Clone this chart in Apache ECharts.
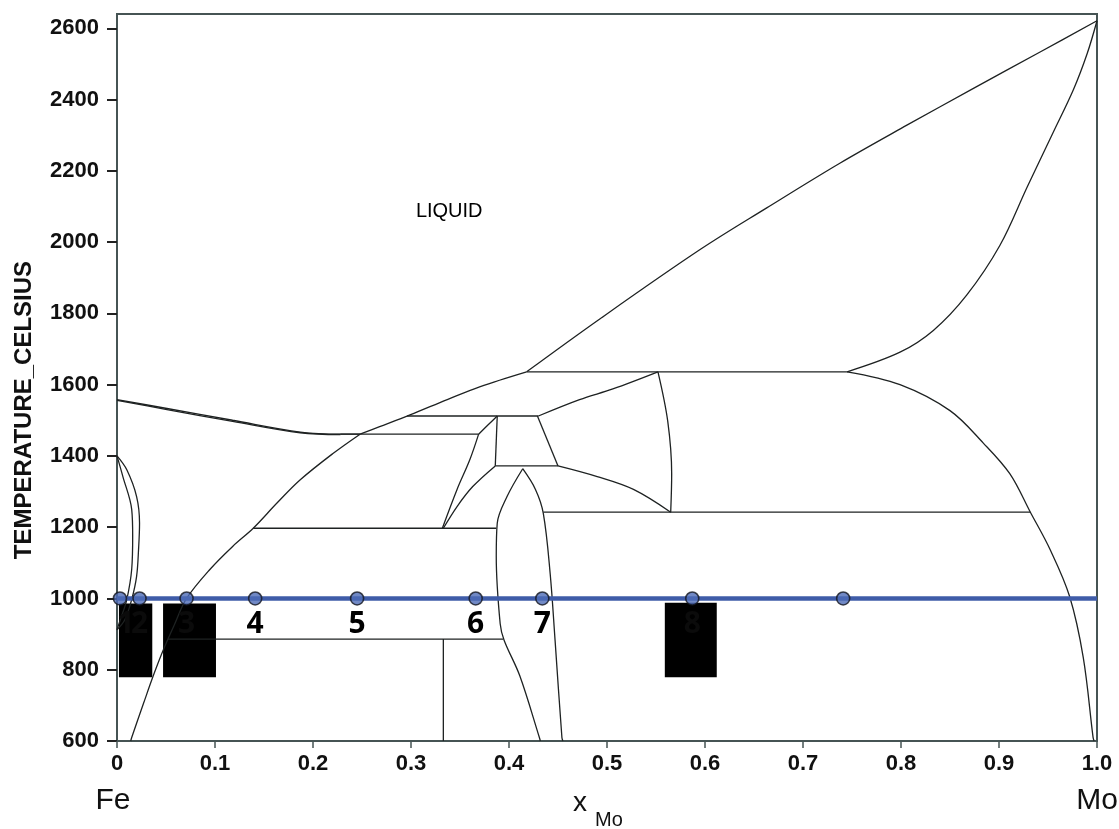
<!DOCTYPE html>
<html>
<head>
<meta charset="utf-8">
<script src="https://cdn.jsdelivr.net/npm/echarts@6/dist/echarts.min.js"></script>
<style>
html,body{margin:0;padding:0;background:#fff;}
#chart{width:1119px;height:829px;}
</style>
</head>
<body>
<div id="chart"></div>
<script>
// ---------- axis ticks ----------
const xTicks = [0, 0.1, 0.2, 0.3, 0.4, 0.5, 0.6, 0.7, 0.8, 0.9, 1.0];
const xTickLabels = ['0', '0.1', '0.2', '0.3', '0.4', '0.5', '0.6', '0.7', '0.8', '0.9', '1.0'];
const yTicks = [600, 800, 1000, 1200, 1400, 1600, 1800, 2000, 2200, 2400, 2600];
const yTickLabels = ['600', '800', '1000', '1200', '1400', '1600', '1800', '2000', '2200', '2400', '2600'];

// ---------- phase boundaries: [x_Mo, T (°C)] ----------
const deltaLiquidus = [[0,1558],[0.051,1533],[0.118,1500],[0.187,1467],[0.228,1461],[0.248,1461]];
const deltaSolidus = [[0,1556],[0.051,1530],[0.118,1497],[0.187,1465],[0.228,1460]];
const liquidusLow = [[0.248,1461],[0.268,1482],[0.299,1515],[0.337,1558],[0.370,1594],[0.418,1636]];
const liquidusHigh = [[0.418,1636],[0.493,1785],[0.595,1979],[0.663,2096],[0.738,2222],[0.806,2328],[0.873,2430],[0.941,2532],[1.0,2621]];
const moSolidus = [[0.745,1636],[0.799,1691],[0.833,1752],[0.867,1851],[0.901,1991],[0.929,2156],[0.955,2306],[0.976,2428],[0.990,2529],[1.0,2621]];
const moSolvus = [[0.745,1636],[0.799,1600],[0.850,1527],[0.884,1436],[0.911,1350],[0.932,1242],[0.952,1138],[0.972,1006],[0.986,834],[0.996,610],[0.997,600]];
const gammaLoopOuter = [[0,1400],[0.010,1361],[0.020,1286],[0.023,1211],[0.022,1138],[0.020,1062],[0.015,997],[0.008,940],[0,912]];
const gammaLoopInner = [[0,1400],[0.006,1342],[0.015,1250],[0.016,1175],[0.015,1082],[0.010,997],[0.004,945],[0,912]];
const alphaSolvus = [[0.014,600],[0.015,610],[0.027,705],[0.037,783],[0.047,854],[0.059,929],[0.071,1000],[0.095,1082],[0.118,1146],[0.139,1197],[0.163,1267],[0.187,1333],[0.220,1406],[0.248,1461]];
const iso1636 = [[0.418,1636],[0.745,1636]];
const iso1512 = [[0.296,1512],[0.430,1512]];
const iso1461 = [[0.228,1461],[0.369,1461]];
const iso1372 = [[0.386,1372],[0.450,1372]];
const iso1242 = [[0.435,1242],[0.932,1242]];
const iso1197 = [[0.139,1197],[0.387,1197]];
const iso886 = [[0.052,886],[0.394,886]];
const vert333 = [[0.333,886],[0.333,600]];
const sigmaLeft = [[0.332,1197],[0.347,1306],[0.360,1389],[0.369,1461]];
const sigmaTop = [[0.369,1461],[0.379,1488],[0.388,1512]];
const vert388 = [[0.388,1512],[0.386,1372]];
const sigmaCurve = [[0.333,1197],[0.347,1258],[0.363,1314],[0.386,1372]];
const rLeft = [[0.429,1512],[0.450,1372]];
const rUpper = [[0.430,1512],[0.472,1558],[0.506,1588],[0.552,1636]];
const muRight = [[0.552,1636],[0.562,1497],[0.566,1350],[0.565,1242]];
const muLower = [[0.450,1372],[0.490,1342],[0.527,1306],[0.565,1242]];
const lensLeft = [[0.414,1364],[0.398,1286],[0.388,1211],[0.387,1118],[0.391,929],[0.395,883],[0.411,783],[0.431,610],[0.432,600]];
const lensRight = [[0.414,1364],[0.427,1306],[0.435,1239],[0.442,1070],[0.447,883],[0.454,610],[0.455,600]];

// ---------- 1000 °C isotherm and sample points ----------
const isothermT = 1000;
const isothermLine = [[0,1000],[1,1000]];
const sampleX = [0.003, 0.023, 0.071, 0.141, 0.245, 0.366, 0.434, 0.587, 0.741];
const sampleLabels = ['1', '2', '3', '4', '5', '6', '7', '8', ''];
const maskedLabels = ['1', '2', '3', '8'];
// black cover boxes: [x1, T1, x2, T2]
const maskBoxes = [[0.002,986,0.036,779],[0.047,986,0.101,779],[0.559,988,0.612,779]];
const regionLabels = [{name:'LIQUID', value:[0.339, 2088]}];

// ---------- build ----------
const phaseLines = [
  [deltaLiquidus, true], [deltaSolidus, true], [liquidusLow, true], [liquidusHigh, true],
  [moSolidus, true], [moSolvus, true], [gammaLoopOuter, true], [gammaLoopInner, true],
  [alphaSolvus, true], [iso1636, false], [iso1512, false], [iso1461, false], [iso1372, false],
  [iso1242, false], [iso1197, false], [iso886, false], [vert333, false], [sigmaLeft, true],
  [sigmaTop, true], [vert388, false], [sigmaCurve, true], [rLeft, false], [rUpper, true],
  [muRight, true], [muLower, true], [lensLeft, true], [lensRight, true]
];

const LINE_COLOR = '#1e2222';
const FRAME = '#465454';

const series = phaseLines.map(([d, sm]) => ({
  type: 'line', data: d, smooth: sm ? 0.35 : false, showSymbol: false, symbol: 'none',
  lineStyle: {color: LINE_COLOR, width: 1.3}, z: 2, silent: true
}));

series.push({
  type: 'line', data: [], z: 3, silent: true,
  markArea: {
    silent: true,
    itemStyle: {color: '#000', opacity: 1},
    data: maskBoxes.map(b => [{coord: [b[0], b[1]]}, {coord: [b[2], b[3]]}])
  }
});

series.push({
  type: 'line', data: isothermLine, showSymbol: false, symbol: 'none',
  lineStyle: {color: '#3f5ca8', width: 4.5}, z: 4, silent: true
});

series.push({
  type: 'scatter', z: 5, silent: true,
  symbol: 'circle', symbolSize: 13,
  itemStyle: {color: '#4d6cb7', borderColor: '#14161f', borderWidth: 1.6},
  label: {
    show: true, position: 'bottom', distance: 4,
    formatter: p => sampleLabels[p.dataIndex],
    fontFamily: '"Open Sans","Noto Sans",sans-serif', fontWeight: 'bold', fontSize: 30,
    color: '#000', textBorderWidth: 0, opacity: 1
  },
  data: sampleX.map((x, i) => ({
    value: [x, isothermT],
    label: maskedLabels.indexOf(sampleLabels[i]) >= 0
      ? {color: '#0b0b0b', offset: [i === 0 ? 6 : 0, 0]} : {}
  }))
});

series.push({
  type: 'scatter', z: 6, silent: true, symbolSize: 1, itemStyle: {opacity: 0},
  label: {show: true, position: 'bottom', distance: -10, formatter: p => p.name,
    fontFamily: '"Liberation Sans",Arial,sans-serif', fontSize: 20, color: '#000',
    textBorderWidth: 0, opacity: 1},
  data: regionLabels
});

function xLabel(v) {
  let best = 0;
  for (let i = 0; i < xTicks.length; i++) if (Math.abs(xTicks[i] - v) < Math.abs(xTicks[best] - v)) best = i;
  return xTickLabels[best];
}
function yLabel(v) {
  const i = yTicks.indexOf(v);
  return i >= 0 ? yTickLabels[i] : '';
}

const option = {
  animation: false,
  backgroundColor: '#ffffff',
  grid: {left: 117, right: 22, top: 14, bottom: 88, show: true, borderColor: FRAME, borderWidth: 2},
  xAxis: {
    type: 'value', min: 0, max: 1, interval: 0.1,
    axisLine: {show: true, lineStyle: {color: FRAME, width: 2}},
    axisTick: {show: true, length: 7, customValues: xTicks, lineStyle: {color: FRAME, width: 1.5}},
    axisLabel: {customValues: xTicks, formatter: xLabel, margin: 12, color: '#111',
      fontSize: 22, fontWeight: 'bold',
      fontFamily: '"Liberation Sans Narrow","Arial Narrow","Liberation Sans",Arial,sans-serif'},
    splitLine: {show: false}
  },
  yAxis: {
    type: 'value', min: 600, max: 2640, interval: 200,
    axisLine: {show: true, lineStyle: {color: FRAME, width: 2}},
    axisTick: {show: true, length: 10, customValues: yTicks, lineStyle: {color: '#222', width: 2}},
    axisLabel: {customValues: yTicks, formatter: yLabel, margin: 18, color: '#111',
      fontSize: 22, fontWeight: 'bold', fontFamily: '"Liberation Sans",Arial,sans-serif'},
    splitLine: {show: false}
  },
  graphic: [
    {type: 'text', x: 24, y: 410, rotation: Math.PI / 2,
      style: {text: 'TEMPERATURE_CELSIUS', font: 'bold 24px "Liberation Sans", Arial, sans-serif', fill: '#111', align: 'center', verticalAlign: 'middle'}},
    {type: 'text', x: 113, y: 801,
      style: {text: 'Fe', font: '30px "Liberation Sans", Arial, sans-serif', fill: '#111', align: 'center', verticalAlign: 'middle'}},
    {type: 'text', x: 1097, y: 801,
      style: {text: 'Mo', font: '30px "Liberation Sans", Arial, sans-serif', fill: '#111', align: 'center', verticalAlign: 'middle'}},
    {type: 'text', x: 580, y: 803,
      style: {text: 'x', font: '28px "Liberation Sans", Arial, sans-serif', fill: '#111', align: 'center', verticalAlign: 'middle'}},
    {type: 'text', x: 609, y: 820,
      style: {text: 'Mo', font: '20px "Liberation Sans", Arial, sans-serif', fill: '#111', align: 'center', verticalAlign: 'middle'}}
  ],
  series: series
};

const chart = echarts.init(document.getElementById('chart'), null, {renderer: 'canvas'});
chart.setOption(option);
</script>
</body>
</html>
